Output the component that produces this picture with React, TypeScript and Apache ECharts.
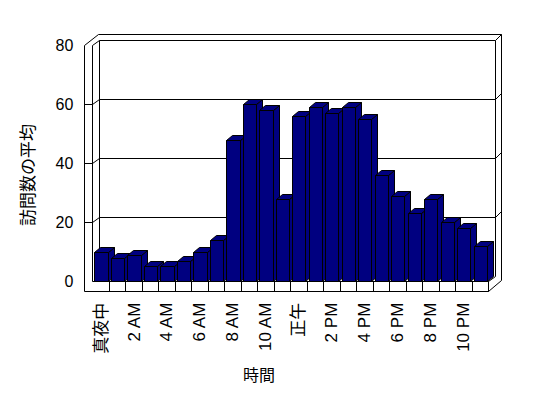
import React, { useEffect, useRef } from "react";
import * as echarts from "echarts";

const hours = [
  "真夜中", "1 AM", "2 AM", "3 AM", "4 AM", "5 AM", "6 AM", "7 AM", "8 AM", "9 AM", "10 AM", "11 AM",
  "正午", "1 PM", "2 PM", "3 PM", "4 PM", "5 PM", "6 PM", "7 PM", "8 PM", "9 PM", "10 PM", "11 PM",
];
const visits = [10, 8, 9, 5, 5, 7, 10, 14, 48, 60, 58, 28, 56, 59, 57, 59, 55, 36, 29, 23, 28, 20, 18, 12];
const yTicks = [0, 20, 40, 60, 80];
const yTitle = "訪問数の平均";
const xTitle = "時間";

const FONT = "'Liberation Sans', 'Noto Sans CJK JP', sans-serif";
const NAVY = "#000080";

const px = (v: number) => Math.round(v - 0.5) + 0.5;

export default function App() {
  const ref = useRef<HTMLDivElement>(null);
  useEffect(() => {
    if (!ref.current) return;
    const chart = echarts.init(ref.current, null, { renderer: "svg" });
    const line = (pts: number[][]) => ({
      type: "polyline",
      shape: { points: pts.map(([a, b]) => [px(a), px(b)]) },
      style: { stroke: "#000", lineWidth: 1, fill: "none" },
      silent: true,
    });
    const frameRender = (params: any, api: any) => {
      const cs = params.coordSys;
      const L = cs.x;
      const R = cs.x + cs.width;
      const yv = (v: number) => api.coord([0, v])[1];
      const T = yv(yTicks[yTicks.length - 1]);
      const B = yv(0);
      const bw = api.size([1, 0])[0];
      const t = 8.5, f = 10, dx = 6.8, dy = 5.7, ox = 13, oy = 11.5;
      const children: any[] = [];
      yTicks.slice(1, -1).forEach((v) => {
        const y = yv(v);
        children.push(line([[L - t, y], [L, y], [L + dx, y - dy], [R + dx, y - dy], [R + ox, y - oy]]));
      });
      children.push(line([[L, B], [L, T], [L + dx, T - dy], [R + dx, T - dy], [R + ox, T - oy]]));
      children.push(line([[L + dx, T - dy], [L + dx, B - dy]]));
      children.push(line([[R + dx, T - dy], [R + dx, B - dy], [R, B]]));
      children.push(line([[L - t, B + f], [L - t, T], [L + dx - 1, T - oy], [R + ox, T - oy], [R + ox, B + f - oy], [R, B + f], [L - t, B + f]]));
      children.push(line([[L, B], [R, B], [R, B + f]]));
      for (let i = 1; i <= hours.length; i++) {
        const x = L + i * bw;
        children.push(line([[x, B], [x, B + f]]));
      }
      return { type: "group", children };
    };
    const barRender = (params: any, api: any) => {
      const i = api.value(0);
      const v = api.value(1);
      const top = api.coord([i, v]);
      const base = api.coord([i, 0]);
      const bw = api.size([1, 0])[0];
      const xl = px(base[0] - bw * 0.37);
      const xr = px(base[0] - bw * 0.37 + bw * 0.8);
      const yt = px(top[1]);
      const yb = px(base[1]);
      const dx = 6, dy = 5;
      const st = { fill: NAVY, stroke: "#000", lineWidth: 1 };
      return {
        type: "group",
        children: [
          { type: "polygon", shape: { points: [[xr, yt], [xr + dx, yt - dy], [xr + dx, yb - dy], [xr, yb]] }, style: st },
          { type: "polygon", shape: { points: [[xl, yt], [xl + dx, yt - dy], [xr + dx, yt - dy], [xr, yt]] }, style: st },
          { type: "rect", shape: { x: xl, y: yt, width: xr - xl, height: yb - yt }, style: st },
        ],
      };
    };
    chart.setOption({
      animation: false,
      backgroundColor: "#fff",
      grid: { left: 92.8, right: 59.5, top: 45.7, bottom: 116.3, containLabel: false },
      xAxis: {
        type: "category",
        data: hours,
        boundaryGap: true,
        axisLine: { show: false },
        axisTick: { show: false },
        splitLine: { show: false },
        axisLabel: {
          interval: 1,
          rotate: 90,
          margin: 21,
          color: "#000",
          fontSize: 17,
          fontFamily: FONT,
        },
      },
      yAxis: {
        type: "value",
        min: 0,
        max: 80,
        interval: 20,
        axisLine: { show: false },
        axisTick: { show: false },
        splitLine: { show: false },
        axisLabel: { margin: 19.5, color: "#000", fontSize: 16, fontFamily: FONT },
      },
      graphic: [
        {
          type: "text",
          x: 28.5,
          y: 175,
          rotation: Math.PI / 2,
          style: { text: yTitle, fill: "#000", font: `17px ${FONT}`, textAlign: "center", textVerticalAlign: "middle" },
        },
        {
          type: "text",
          x: 259,
          y: 375,
          style: { text: xTitle, fill: "#000", font: `16px ${FONT}`, textAlign: "center", textVerticalAlign: "middle" },
        },
      ],
      series: [
        { type: "custom", z: 1, clip: false, renderItem: frameRender, data: [[0, 0]], silent: true },
        { type: "custom", z: 2, clip: false, renderItem: barRender, data: visits.map((v, i) => [i, v]), silent: true },
      ],
    });
    return () => chart.dispose();
  }, []);
  return <div ref={ref} style={{ position: "fixed", left: 0, top: 0, width: 548, height: 398 }} />;
}
